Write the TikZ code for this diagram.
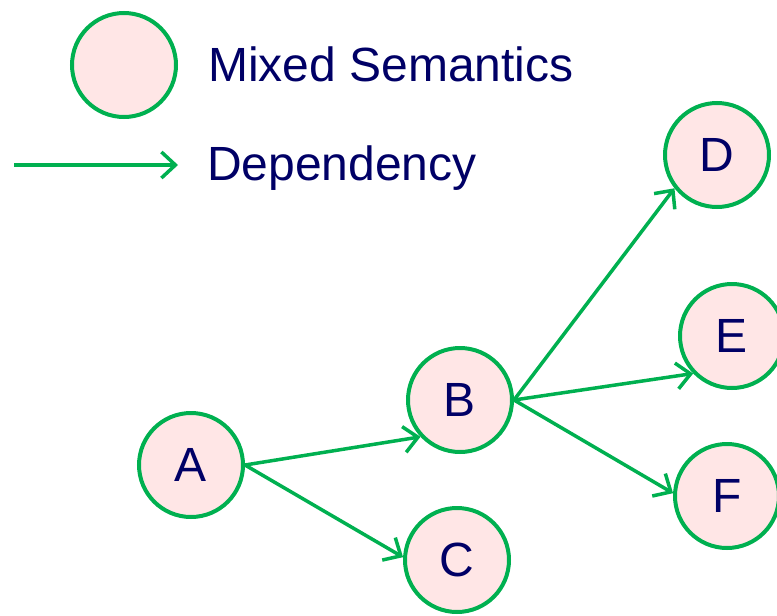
\documentclass[tikz,border=0pt]{standalone}
\usepackage{fontspec}
\setmainfont{Liberation Sans}
\usetikzlibrary{arrows.meta}

\definecolor{depgreen}{RGB}{0,176,80}
\definecolor{labelblue}{RGB}{0,0,102}
\definecolor{sempink}{RGB}{255,230,230}

\begin{document}
\begin{tikzpicture}[
	x = 1pt, y = -1pt,
	every node/.style = {text = labelblue, font = \fontsize{48}{58}\selectfont},
	sem/.style = {circle, draw = depgreen, line width = 4pt, fill = sempink, minimum size = 104pt, inner sep = 0pt},
	dep/.style = {draw = depgreen, line width = 3.5pt, -{Straight Barb[length = 14pt, width = 26pt]}},
	legend/.style = {anchor = base west, inner sep = 0pt}
	]
	\useasboundingbox (0,0) rectangle (777,616);

	% legend
	\node[sem] (key) at (124,65) {};
	\node[legend] (keytext) at (208,81) {Mixed Semantics};
	\coordinate (depfrom) at (14,165);
	\coordinate (depto) at (178,165);
	\draw[dep] (depfrom) -- (depto);
	\node[legend] (deptext) at (207,180) {Dependency};

	% dependency graph
	\node[sem] (A) at (191,465) {A};
	\node[sem] (B) at (460,400) {B};
	\node[sem] (C) at (457,560) {C};
	\node[sem] (D) at (717,155) {D};
	\node[sem] (E) at (732,336) {E};
	\node[sem] (F) at (727,496) {F};

	\draw[dep] (A.east) -- (B.223);
	\draw[dep] (A.east) -- (C.177);
	\draw[dep] (B.east) -- (D.218);
	\draw[dep] (B.east) -- (E.224);
	\draw[dep] (B.east) -- (F.177);
\end{tikzpicture}
\end{document}
